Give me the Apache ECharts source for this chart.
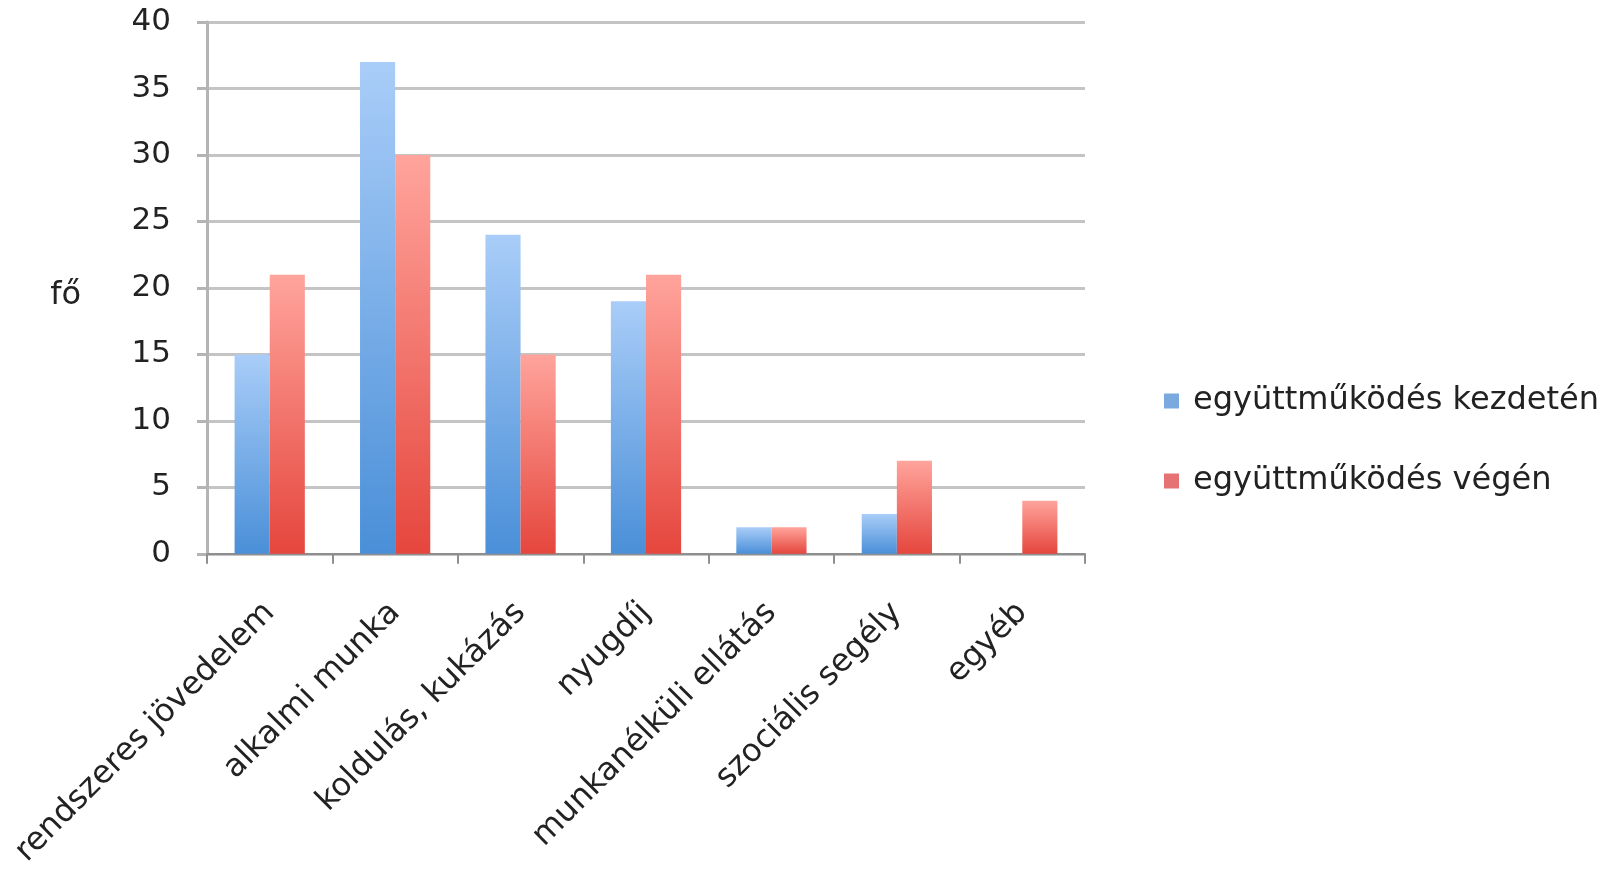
<!DOCTYPE html>
<html>
<head>
<meta charset="utf-8">
<script src="https://cdn.jsdelivr.net/npm/echarts@6/dist/echarts.min.js"></script>
<style>html,body{margin:0;padding:0;background:#fff;}#c{width:1618px;height:870px;}</style>
</head>
<body>
<div id="c"></div>
<script>
const categories = ["rendszeres jövedelem", "alkalmi munka", "koldulás, kukázás", "nyugdíj", "munkanélküli ellátás", "szociális segély", "egyéb"];
const seriesNames = ["együttműködés kezdetén", "együttműködés végén"];
const startValues = [15, 37, 24, 19, 2, 3, 0];
const endValues = [21, 30, 15, 21, 2, 7, 4];
const yTicks = [0, 5, 10, 15, 20, 25, 30, 35, 40];

const chart = echarts.init(document.getElementById('c'));
const font = 'DejaVu Sans, sans-serif';
function grad(top, bottom) {
  return new echarts.graphic.LinearGradient(0, 0, 0, 1, [
    { offset: 0, color: top },
    { offset: 1, color: bottom }
  ]);
}
chart.setOption({
  backgroundColor: '#ffffff',
  animation: false,
  grid: { left: 207, right: 533, top: 22, bottom: 315 },
  legend: {
    orient: 'vertical',
    left: 1159,
    top: 380,
    itemWidth: 15,
    itemHeight: 15,
    itemGap: 48,
    icon: 'rect',
    textStyle: { fontSize: 32, lineHeight: 32, color: '#222', fontFamily: font, padding: [0, 0, 0, 9] },
    data: [
      { name: seriesNames[0], itemStyle: { color: '#7aa9df' } },
      { name: seriesNames[1], itemStyle: { color: '#e57373' } }
    ]
  },
  xAxis: {
    type: 'category',
    data: categories,
    axisLine: { lineStyle: { color: '#8f8f8f', width: 2 } },
    axisTick: { show: true, length: 10, lineStyle: { color: '#8f8f8f', width: 2 } },
    axisLabel: { rotate: 45, margin: 54, fontSize: 32, color: '#222', fontFamily: font, interval: 0 }
  },
  yAxis: {
    type: 'value',
    min: yTicks[0],
    max: yTicks[yTicks.length - 1],
    interval: 5,
    name: 'fő',
    nameLocation: 'middle',
    nameRotate: 0,
    nameGap: 126,
    nameTextStyle: { fontSize: 32, lineHeight: 40, color: '#222', fontFamily: font, verticalAlign: 'top', padding: [-12, 0, 0, 0] },
    axisLine: { show: true, lineStyle: { color: '#b4b4b4', width: 3 } },
    axisTick: { show: true, length: 10, lineStyle: { color: '#b4b4b4', width: 3 } },
    axisLabel: { margin: 36, fontSize: 31, color: '#222', fontFamily: font },
    splitLine: { lineStyle: { color: '#c4c4c4', width: 3 } }
  },
  series: [
    {
      name: seriesNames[0],
      type: 'bar',
      data: startValues,
      barGap: '0%',
      barCategoryGap: '44%',
      itemStyle: { color: grad('#a9cdf8', '#4a8fd8') }
    },
    {
      name: seriesNames[1],
      type: 'bar',
      data: endValues,
      itemStyle: { color: grad('#ffa49c', '#e5463d') }
    }
  ]
});
</script>
</body>
</html>
